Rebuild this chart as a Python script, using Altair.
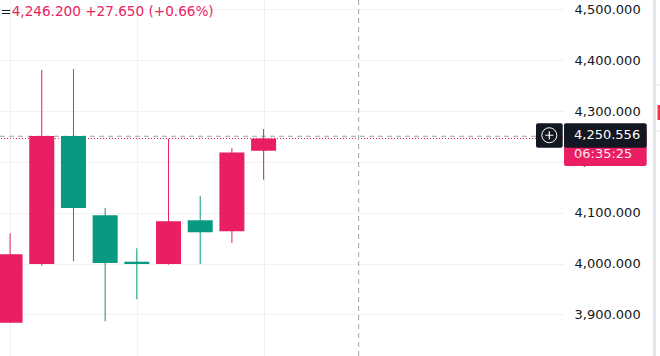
import altair as alt
import pandas as pd

# ---- data ----
idx = [0, 1, 2, 3, 4, 5, 6, 7, 8]
opens = [3883.5, 3999.2, 4251.0, 4095.0, 4003.7, 3999.2, 4085.2, 4063.5, 4222.1]
highs = [4059.6, 4380.9, 4382.8, 4109.4, 4030.1, 4245.7, 4133.0, 4227.4, 4264.8]
lows = [3883.0, 3995.9, 4004.5, 3886.5, 3929.8, 3998.0, 3999.0, 4040.5, 4165.0]
closes = [4018.3, 4251.0, 4109.4, 4001.2, 3999.2, 4083.2, 4061.6, 4218.55, 4246.2]

grid_x = [0, 4, 8]
grid_y = [3900, 4000, 4100, 4200, 4300, 4400, 4500]
crosshair_i = 11
crosshair_price = 4250.556
last_price = 4246.2
header_prefix = "C="
header_text = "4,246.200  +27.650 (+0.66%)"
crosshair_label = "4,250.556"
countdown = "06:35:25"

PINK = "#E91E63"
GREEN = "#089981"
GRID = "#f1f1f1"
FONT = "DejaVu Sans"

df = pd.DataFrame({"i": idx, "open": opens, "high": highs, "low": lows, "close": closes})
df["lo"] = df[["open", "close"]].min(axis=1)
df["hi"] = df[["open", "close"]].max(axis=1)
df["dir"] = ["up" if c >= o else "down" for o, c in zip(opens, closes)]

xscale = alt.Scale(domain=[-0.318, 17.448], nice=False, zero=False, padding=0)
yscale = alt.Scale(domain=[3818.2, 4518.6], nice=False, zero=False, padding=0)
xaxis = alt.Axis(values=grid_x, grid=True, gridColor=GRID, labels=False, ticks=False,
                 domain=False, title=None, zindex=0)
yaxis = alt.Axis(orient="right", values=grid_y, format=",.3f", grid=True, gridColor=GRID,
                 ticks=False, tickSize=0, domain=False, title=None, labelPadding=11,
                 labelFont=FONT, labelFontSize=13, labelColor="#131722", zindex=0,
                 labelBaseline="middle")
color = alt.Color("dir:N", scale=alt.Scale(domain=["up", "down"], range=[PINK, GREEN]), legend=None)

base = alt.Chart(df)

wicks = base.mark_rule(strokeWidth=1).encode(
    x=alt.X("i:Q", scale=xscale, axis=xaxis),
    y=alt.Y("low:Q", scale=yscale, axis=yaxis),
    y2="high:Q",
    color=color,
)
bodies = base.mark_bar(size=25).encode(
    x=alt.X("i:Q", scale=xscale, axis=xaxis),
    y=alt.Y("lo:Q", scale=yscale, axis=yaxis),
    y2="hi:Q",
    color=color,
)

one = pd.DataFrame({"a": [0]})
ones = alt.Chart(one)

cross_h = ones.mark_rule(color="#a0a3ab", strokeWidth=1, strokeDash=[5, 4]).encode(
    y=alt.YDatum(crosshair_price, scale=yscale))
cross_v = ones.mark_rule(color="#a0a3ab", strokeWidth=1, strokeDash=[5, 4]).encode(
    x=alt.XDatum(crosshair_i, scale=xscale))
last_line = ones.mark_rule(color=PINK, strokeWidth=1, strokeDash=[1, 2]).encode(
    y=alt.YDatum(last_price, scale=yscale))

# price-axis labels
pink_box = ones.mark_rect(color=PINK, cornerRadius=2, yOffset=-10, y2Offset=27.5).encode(
    x=alt.value(564), x2=alt.value(646.7),
    y=alt.YDatum(last_price, scale=yscale), y2=alt.Y2Datum(last_price))
countdown_txt = ones.mark_text(align="left", baseline="middle", font=FONT, fontSize=13,
                               color="#fde7ef", dy=16).encode(
    x=alt.value(574), y=alt.YDatum(last_price, scale=yscale), text=alt.value(countdown))
black_box = ones.mark_rect(color="#131722", cornerRadius=2, yOffset=-13, y2Offset=11.5).encode(
    x=alt.value(564), x2=alt.value(646.7),
    y=alt.YDatum(crosshair_price, scale=yscale), y2=alt.Y2Datum(crosshair_price))
cross_txt = ones.mark_text(align="left", baseline="middle", font=FONT, fontSize=13,
                           color="white", dy=-1).encode(
    x=alt.value(574), y=alt.YDatum(crosshair_price, scale=yscale), text=alt.value(crosshair_label))
btn_box = ones.mark_rect(color="#131722", cornerRadius=2, yOffset=-13, y2Offset=11.5).encode(
    x=alt.value(536), x2=alt.value(562.7),
    y=alt.YDatum(crosshair_price, scale=yscale), y2=alt.Y2Datum(crosshair_price))
btn_circle = ones.mark_point(shape="circle", filled=False, stroke="white", strokeWidth=1,
                             size=225, opacity=1, yOffset=-1).encode(
    x=alt.value(549.3), y=alt.YDatum(crosshair_price, scale=yscale))
btn_plus = ones.mark_point(shape="M-1,0L1,0M0,-1L0,1", filled=False, stroke="white",
                           strokeWidth=1.2, size=64, opacity=1, yOffset=-1).encode(
    x=alt.value(549.3), y=alt.YDatum(crosshair_price, scale=yscale))

# header legend text
hdr_prefix = ones.mark_text(align="right", baseline="middle", font=FONT, fontSize=13,
                            color="#131722").encode(
    x=alt.value(11.5), y=alt.value(12), text=alt.value(header_prefix))
hdr = ones.mark_text(align="left", baseline="middle", font=FONT, fontSize=13.6,
                     color=PINK).encode(
    x=alt.value(11.7), y=alt.value(12), text=alt.value(header_text))

# right edge panel decorations
strip = ones.mark_rect(color="#e3e5ea").encode(
    x=alt.value(653), x2=alt.value(656), y=alt.value(0), y2=alt.value(356))
red_mark = ones.mark_rect(color="#f23645").encode(
    x=alt.value(657.5), x2=alt.value(660), y=alt.value(105), y2=alt.value(120))
sep1 = ones.mark_rect(color="#e3e5ea").encode(
    x=alt.value(656), x2=alt.value(660), y=alt.value(84.5), y2=alt.value(85.5))
sep2 = ones.mark_rect(color="#e3e5ea").encode(
    x=alt.value(656), x2=alt.value(660), y=alt.value(130.5), y2=alt.value(131.5))

chart = alt.layer(
    cross_h, last_line, cross_v, wicks, bodies,
    pink_box, countdown_txt, black_box, cross_txt, btn_box, btn_circle, btn_plus,
    hdr_prefix, hdr, strip, red_mark, sep1, sep2,
).properties(
    width=563, height=356,
    padding={"left": 0, "top": 0, "right": 97, "bottom": 0},
    autosize=alt.AutoSizeParams(type="none"),
    background="white",
).configure_view(stroke=None)

chart.save("out.html", embed_options={"renderer": "svg", "actions": False})
